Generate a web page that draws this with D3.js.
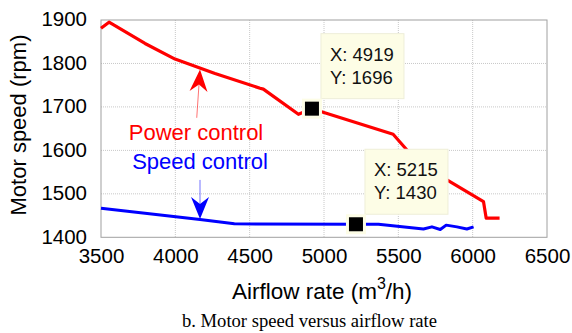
<!DOCTYPE html>
<html><head><meta charset="utf-8">
<script src="https://cdn.jsdelivr.net/npm/d3@7"></script>
<style>
html,body{margin:0;padding:0;background:#fff;}
svg{display:block;}
</style></head>
<body>
<svg id="chart" width="572" height="333"></svg>
<script>
// ---- data ----
const xTicks = [3500, 4000, 4500, 5000, 5500, 6000, 6500];
const yTicks = [1400, 1500, 1600, 1700, 1800, 1900];

const powerAirflow = [3500, 3554, 3796, 3998, 4267, 4570, 4592, 4828, 4919, 5465, 5558, 5827, 6073, 6091, 6181];
const powerSpeed   = [1881, 1895, 1846, 1810, 1777, 1743, 1741, 1683, 1696, 1637, 1601, 1532, 1482, 1444, 1444];

const speedAirflow = [3500, 4166, 4397, 5215, 5366, 5669, 5726, 5782, 5822, 5894, 5961, 6006];
const speedSpeed   = [1467, 1441, 1431, 1430, 1430, 1419, 1424, 1418, 1428, 1424, 1419, 1424];

const tipX = [4919, 5215];
const tipY = [1696, 1430];

const seriesNames = ["Power control", "Speed control"];
// annotation arrows: [startX, startY, tipX, tipY] in data units
const arrowPower = [4144, 1675, 4166, 1786];
const arrowSpeed = [4166, 1532, 4166, 1442];
const labelPower = [4166, 1623];
const labelSpeed = [4166, 1557];

const xLabel = "Airflow rate (m";
const yLabel = "Motor speed (rpm)";
const caption = "b. Motor speed versus airflow rate";

// ---- chart ----
const svg = d3.select("#chart");
const m = {l: 101, r: 547, t: 20, b: 237.3};
const x = d3.scaleLinear().domain([3500, 6500]).range([m.l, m.r]);
const y = d3.scaleLinear().domain([1400, 1900]).range([m.b, m.t]);
const font = "Arial, 'Liberation Sans', sans-serif";

// grid
const grid = svg.append("g");
grid.selectAll("line.vg").data(xTicks.slice(1, -1)).join("line")
  .attr("x1", d => x(d)).attr("x2", d => x(d)).attr("y1", m.t).attr("y2", m.b)
  .attr("stroke", "#c8c8c8").attr("stroke-width", 1).attr("stroke-dasharray", "1,1");
grid.selectAll("line.hg").data(yTicks.slice(1, -1)).join("line")
  .attr("y1", d => y(d)).attr("y2", d => y(d)).attr("x1", m.l).attr("x2", m.r)
  .attr("stroke", "#c8c8c8").attr("stroke-width", 1).attr("stroke-dasharray", "1,1");

// box
svg.append("rect").attr("x", m.l).attr("y", m.t).attr("width", m.r - m.l).attr("height", m.b - m.t)
  .attr("fill", "none").attr("stroke", "#a0a0a0").attr("stroke-width", 1);

// axes (labels only)
const xAxis = d3.axisBottom(x).tickValues(xTicks).tickSize(0).tickPadding(11).tickFormat(d3.format("d"));
const gx = svg.append("g").attr("transform", `translate(0,${m.b})`).call(xAxis);
gx.select(".domain").remove();
gx.selectAll("text").attr("font-family", font).attr("font-size", 20.5).attr("fill", "#000");

const yAxis = d3.axisLeft(y).tickValues(yTicks).tickSize(0).tickPadding(14).tickFormat(d3.format("d"));
const gy = svg.append("g").attr("transform", `translate(${m.l},0)`).call(yAxis);
gy.select(".domain").remove();
gy.selectAll("text").attr("font-family", font).attr("font-size", 20.5).attr("fill", "#000").attr("dy", "0.28em");

// lines
const line = d3.line().x(d => x(d[0])).y(d => y(d[1]));
svg.append("path").datum(powerAirflow.map((a, i) => [a, powerSpeed[i]]))
  .attr("d", line).attr("fill", "none").attr("stroke", "#ff0000").attr("stroke-width", 3.2)
  .attr("stroke-linejoin", "round");
svg.append("path").datum(speedAirflow.map((a, i) => [a, speedSpeed[i]]))
  .attr("d", line).attr("fill", "none").attr("stroke", "#0000ff").attr("stroke-width", 3)
  .attr("stroke-linejoin", "round");

// annotations
function arrow(a, color) {
  const x1 = x(a[0]), y1 = y(a[1]), x2 = x(a[2]), y2 = y(a[3]);
  const ang = Math.atan2(y2 - y1, x2 - x1);
  const L = 22, W = 9, N = 15;
  svg.append("line").attr("x1", x1).attr("y1", y1).attr("x2", x2 - Math.cos(ang) * N).attr("y2", y2 - Math.sin(ang) * N)
    .attr("stroke", color).attr("stroke-opacity", 0.55).attr("stroke-width", 1);
  const bx = x2 - Math.cos(ang) * L, by = y2 - Math.sin(ang) * L;
  const nx = x2 - Math.cos(ang) * N, ny = y2 - Math.sin(ang) * N;
  const px = -Math.sin(ang) * W, py = Math.cos(ang) * W;
  svg.append("path")
    .attr("d", `M${x2},${y2}L${bx + px},${by + py}L${nx},${ny}L${bx - px},${by - py}Z`)
    .attr("fill", color);
}
arrow(arrowPower, "#ff0000");
arrow(arrowSpeed, "#0000ff");

svg.append("text").attr("x", x(labelPower[0]) - 4).attr("y", y(labelPower[1]))
  .attr("text-anchor", "middle").attr("font-family", font).attr("font-size", 22)
  .attr("fill", "#ff0000").text(seriesNames[0]);
svg.append("text").attr("x", x(labelSpeed[0])).attr("y", y(labelSpeed[1]))
  .attr("text-anchor", "middle").attr("font-family", font).attr("font-size", 22)
  .attr("fill", "#0000ff").text(seriesNames[1]);

// data tips
tipX.forEach((tx, i) => {
  const cx = x(tx), cy = y(tipY[i]);
  const g = svg.append("g");
  g.append("rect").attr("x", cx + 9).attr("y", cy - 75).attr("width", 83).attr("height", 65)
    .attr("fill", "#fdfde6").attr("stroke", "#eeeed8").attr("stroke-width", 1);
  g.append("text").attr("x", cx + 18).attr("y", cy - 48).attr("font-family", font).attr("font-size", 18.5)
    .attr("fill", "#111").text("X: " + tx);
  g.append("text").attr("x", cx + 18).attr("y", cy - 25).attr("font-family", font).attr("font-size", 18.5)
    .attr("fill", "#111").text("Y: " + tipY[i]);
  g.append("rect").attr("x", cx - 10).attr("y", cy - 10).attr("width", 20).attr("height", 20)
    .attr("fill", "#fdfde6");
  g.append("rect").attr("x", cx - 7).attr("y", cy - 7).attr("width", 14).attr("height", 14)
    .attr("fill", "#000");
});

// axis titles
const xt = svg.append("text").attr("x", 322).attr("y", 299).attr("text-anchor", "middle")
  .attr("font-family", font).attr("font-size", 22.5).attr("fill", "#000");
xt.append("tspan").text(xLabel);
xt.append("tspan").attr("font-size", 16).attr("dy", -10).text("3");
xt.append("tspan").attr("dy", 10).text("/h)");

svg.append("text").attr("transform", "translate(25.5,125) rotate(-90)").attr("text-anchor", "middle")
  .attr("font-family", font).attr("font-size", 22).attr("fill", "#000").text(yLabel);

svg.append("text").attr("x", 309.5).attr("y", 327).attr("text-anchor", "middle")
  .attr("font-family", "'Liberation Serif', 'Times New Roman', serif").attr("font-size", 18.6)
  .attr("fill", "#000").text(caption);
</script>
</body></html>
